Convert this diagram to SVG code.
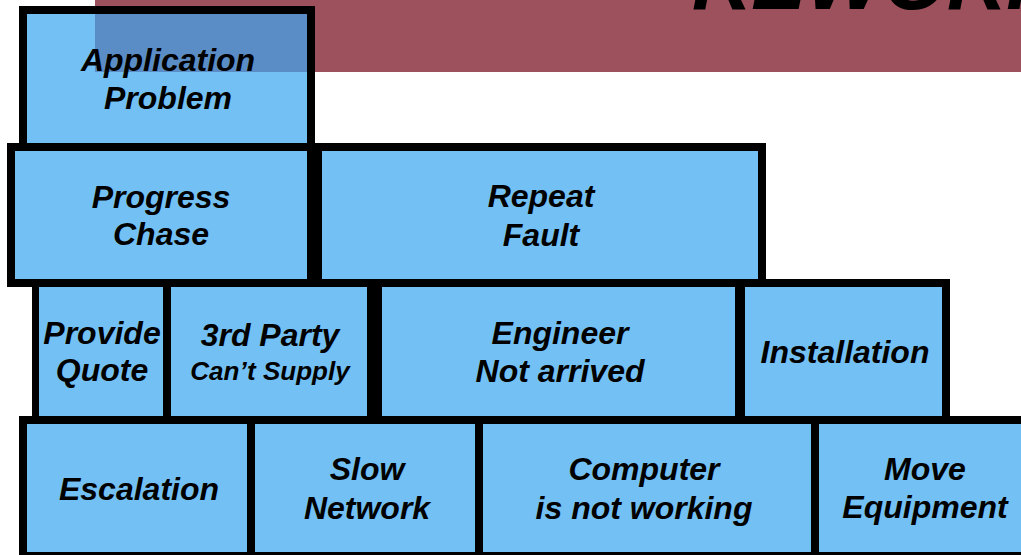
<svg xmlns="http://www.w3.org/2000/svg" width="1021" height="555" viewBox="0 0 1021 555">
  <style>
    .edge { fill: #000000; }
    .fill { fill: #73C1F4; }
    .lbl { font-family: "Liberation Sans", Arial, sans-serif; font-weight: bold; font-style: italic; font-size: 32px; fill: #000000; text-anchor: middle; }
    .small { font-size: 26px; }
    .title { font-family: "Liberation Sans", Arial, sans-serif; font-weight: bold; font-style: italic; font-size: 82px; fill: #000000; }
  </style>
  <rect x="0" y="0" width="1021" height="555" fill="#ffffff"/>
  <g id="banner">
    <rect x="95" y="0" width="926" height="72" fill="#9C515C"/>
    <text class="title" x="692" y="9">REWORK</text>
  </g>
  <g id="connectors"/>
  <g id="node-application-problem">
    <rect class="edge" x="19" y="6" width="296" height="145"/>
    <rect class="fill" x="27" y="14" width="280" height="129"/>
    <rect x="95" y="14" width="212" height="58" fill="#5A8DC6"/>
    <text class="lbl" x="168" y="71">Application</text>
    <text class="lbl" x="168" y="109">Problem</text>
  </g>
  <g id="node-progress-chase">
    <rect class="edge" x="7" y="143" width="308" height="144"/>
    <rect class="fill" x="15" y="151" width="292" height="128"/>
    <text class="lbl" x="161" y="208">Progress</text>
    <text class="lbl" x="161" y="245">Chase</text>
  </g>
  <g id="node-repeat-fault">
    <rect class="edge" x="307" y="143" width="459" height="144"/>
    <rect class="fill" x="322" y="151" width="436" height="128"/>
    <text class="lbl" x="541" y="207">Repeat</text>
    <text class="lbl" x="541" y="246">Fault</text>
  </g>
  <g id="node-provide-quote">
    <rect class="edge" x="32" y="279" width="139" height="145"/>
    <rect class="fill" x="39" y="287" width="124" height="129"/>
    <text class="lbl" x="102" y="344">Provide</text>
    <text class="lbl" x="102" y="381">Quote</text>
  </g>
  <g id="node-3rd-party">
    <rect class="edge" x="163" y="279" width="219" height="145"/>
    <rect class="fill" x="171" y="287" width="196" height="129"/>
    <text class="lbl" x="270" y="346">3rd Party</text>
    <text class="lbl small" x="270" y="380">Can’t Supply</text>
  </g>
  <g id="node-engineer-not-arrived">
    <rect class="edge" x="367" y="279" width="378" height="145"/>
    <rect class="fill" x="382" y="287" width="353" height="129"/>
    <text class="lbl" x="560" y="344">Engineer</text>
    <text class="lbl" x="560" y="382">Not arrived</text>
  </g>
  <g id="node-installation">
    <rect class="edge" x="735" y="279" width="215" height="145"/>
    <rect class="fill" x="745" y="287" width="197" height="129"/>
    <text class="lbl" x="845" y="363">Installation</text>
  </g>
  <g id="node-escalation">
    <rect class="edge" x="19" y="416" width="236" height="144"/>
    <rect class="fill" x="27" y="424" width="220" height="128"/>
    <text class="lbl" x="139" y="500">Escalation</text>
  </g>
  <g id="node-slow-network">
    <rect class="edge" x="247" y="416" width="236" height="144"/>
    <rect class="fill" x="255" y="424" width="220" height="128"/>
    <text class="lbl" x="367" y="480">Slow</text>
    <text class="lbl" x="367" y="519">Network</text>
  </g>
  <g id="node-computer-not-working">
    <rect class="edge" x="475" y="416" width="344" height="144"/>
    <rect class="fill" x="483" y="424" width="328" height="128"/>
    <text class="lbl" x="644" y="480">Computer</text>
    <text class="lbl" x="644" y="519">is not working</text>
  </g>
  <g id="node-move-equipment">
    <rect class="edge" x="811" y="416" width="220" height="144"/>
    <rect class="fill" x="819" y="424" width="212" height="128"/>
    <text class="lbl" x="925" y="480">Move</text>
    <text class="lbl" x="925" y="518">Equipment</text>
  </g>
</svg>
